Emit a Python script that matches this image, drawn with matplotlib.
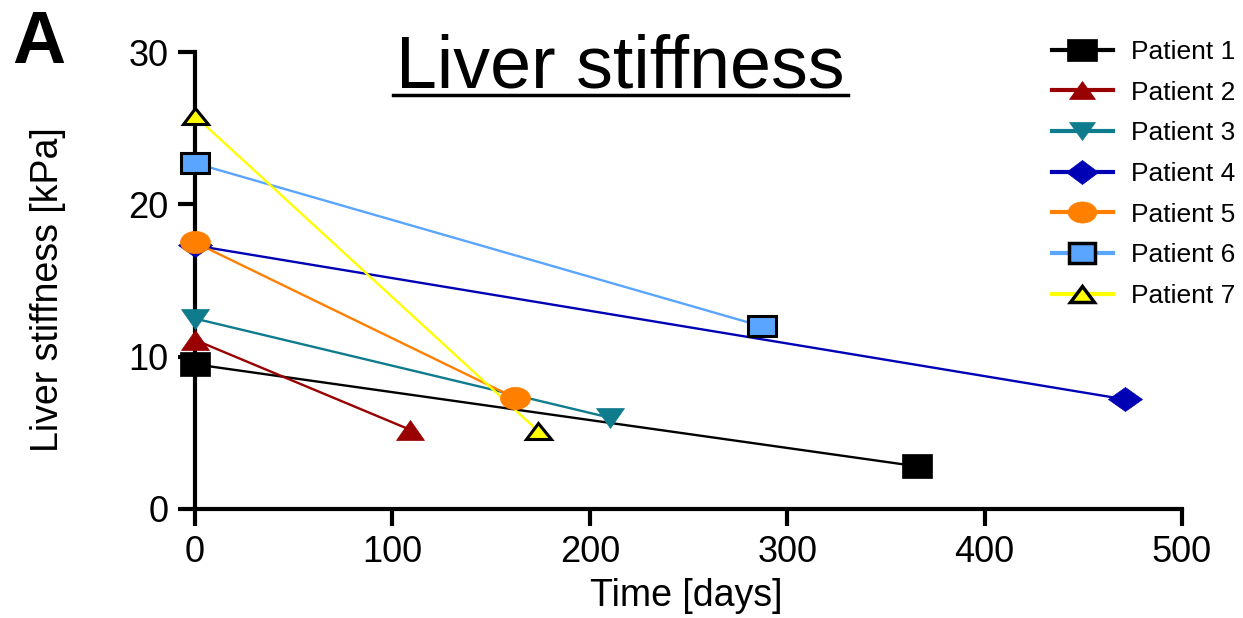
import matplotlib
matplotlib.use("Agg")
import matplotlib.pyplot as plt
from matplotlib.markers import MarkerStyle
from matplotlib.transforms import Affine2D

patients = ["Patient 1", "Patient 2", "Patient 3", "Patient 4", "Patient 5", "Patient 6", "Patient 7"]
days_p1 = [0, 366]
kpa_p1 = [9.5, 2.8]
days_p2 = [0, 109]
kpa_p2 = [11.1, 5.2]
days_p3 = [0, 210]
kpa_p3 = [12.5, 6.0]
days_p4 = [0, 471]
kpa_p4 = [17.3, 7.2]
days_p5 = [0, 162]
kpa_p5 = [17.5, 7.3]
days_p6 = [0, 287]
kpa_p6 = [22.7, 12.0]
days_p7 = [0, 174]
kpa_p7 = [25.8, 5.1]
x_ticks = [0, 100, 200, 300, 400, 500]
y_ticks = [0, 10, 20, 30]

plt.rcParams['font.family'] = ['Liberation Sans', 'DejaVu Sans']

fig = plt.figure(figsize=(12.43, 6.18), dpi=100)
ax = fig.add_axes([195/1243, 1-509/618, (1182-195)/1243, (509-52)/618])

def ms(m, sx=1.3, sy=1.0):
    return MarkerStyle(m, transform=Affine2D().scale(sx, sy))

series = [
    (days_p1, kpa_p1, '#000000', ms('s', 1.3, 1.0), '#000000', '#000000', 17),
    (days_p2, kpa_p2, '#990000', ms('^', 1.45, 1.0), '#990000', '#990000', 14),
    (days_p3, kpa_p3, '#0E7C8C', ms('v', 1.45, 1.0), '#0E7C8C', '#0E7C8C', 14),
    (days_p4, kpa_p4, '#0000B4', ms('D', 1.35, 0.95), '#0000B4', '#0000B4', 13),
    (days_p5, kpa_p5, '#FF7F00', ms('o', 1.35, 1.0), '#FF7F00', '#FF7F00', 16),
    (days_p6, kpa_p6, '#5AA5FF', ms('s', 1.3, 1.0), '#5AA5FF', '#000000', 15),
    (days_p7, kpa_p7, '#FFFF00', ms('^', 1.5, 1.0), '#FFFF00', '#000000', 12),
]

handles = []
for (x, y, c, m, fc, ec, size), name in zip(series, patients):
    ax.plot(x, y, color=c, lw=1.7, zorder=3, clip_on=False)
    ax.plot(x, y, linestyle='none', marker=m, markersize=size, markerfacecolor=fc,
            markeredgecolor=ec, markeredgewidth=2.2 if ec != fc else 0.5, zorder=4, clip_on=False)
    h, = ax.plot([], [], color=c, lw=3, marker=m, markersize=size * 0.95, markerfacecolor=fc,
                 markeredgecolor=ec, markeredgewidth=2.5 if ec != fc else 0.5, label=name)
    handles.append(h)

ax.set_xlim(0, 500)
ax.set_ylim(0, 30)
ax.set_xticks(x_ticks)
ax.set_yticks(y_ticks)
for s in ['top', 'right']:
    ax.spines[s].set_visible(False)
for s in ['left', 'bottom']:
    ax.spines[s].set_linewidth(3)
    ax.spines[s].set_zorder(2)
ax.tick_params(axis='both', length=12, width=3, direction='out', pad=7, labelsize=26)

ax.set_ylabel("Liver stiffness [kPa]", fontsize=27)
ax.yaxis.set_label_coords((66-195)/987, (509-290)/457)
ax.set_xlabel("Time [days]", fontsize=27)
ax.xaxis.set_label_coords((686-195)/987, (509-578)/457)

fig.text(620/1243, 1-88/618, "Liver stiffness", fontsize=53, ha='center', va='baseline')
fig.add_artist(plt.Line2D([393/1243, 848/1243], [1-95/618, 1-95/618], color='black', lw=2.5))

fig.text(12/1243, 1-63/618, "A", fontsize=53, fontweight='bold', ha='left', va='baseline')

leg = fig.legend(handles=handles, loc='upper left', bbox_to_anchor=(1052/1243, 1-40/618),
                 frameon=False, fontsize=19, handlelength=2.3, labelspacing=0.63,
                 handletextpad=0.7, borderaxespad=0, borderpad=0)

fig.savefig("out.png", dpi=100)
